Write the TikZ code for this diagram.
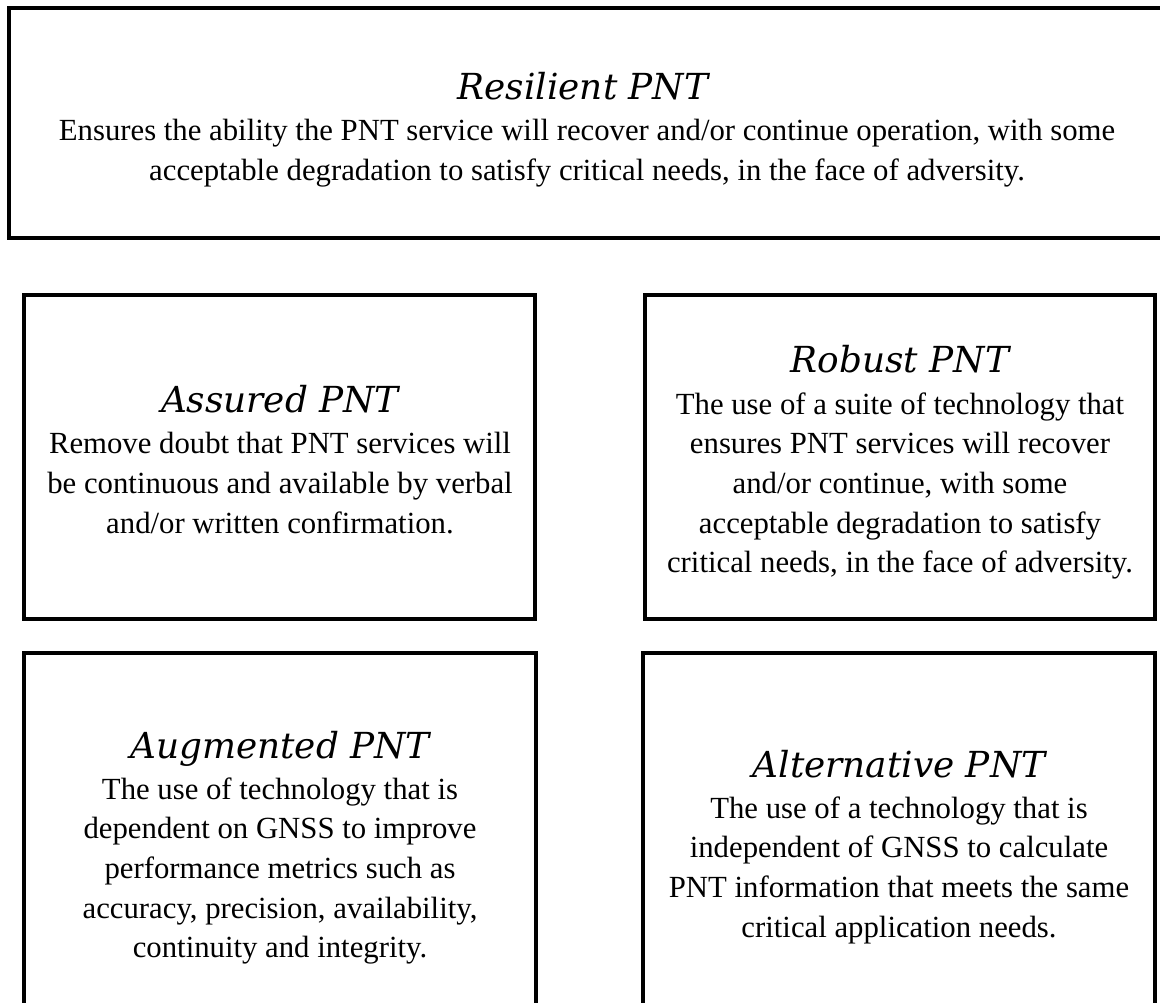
\documentclass[tikz,border=0pt]{standalone}
\usepackage{fontspec}
\setmainfont{Liberation Serif}
\newfontfamily\headfont{DejaVu Serif}
\usepackage{tikz}

\begin{document}
\begin{tikzpicture}[x=0.02cm, y=-0.02cm,
    frame/.style={line width=2.2pt},
    heading/.style={anchor=base, inner sep=0pt,
      font=\headfont\itshape\fontsize{20.4}{23}\selectfont},
    desc/.style={anchor=north, inner sep=0pt, align=center,
      font=\fontsize{17.5}{22.6}\selectfont}]
  \useasboundingbox (0,0) rectangle (1160,1003);
  \begin{scope}
    \clip (0,0) rectangle (1160,1003);
    \draw[frame] (9, 8) rectangle (1190, 238);
    \draw[frame] (24, 295) rectangle (535, 619);
    \draw[frame] (645, 295) rectangle (1155, 619);
    \draw[frame] (24, 653) rectangle (536, 1030);
    \draw[frame] (643, 653) rectangle (1155, 1030);
  \end{scope}
  % top box
  \node[heading] (resilient) at (583, 100) {Resilient PNT};
  \node[desc] (resilienttext) at (587, 119) {Ensures the ability the PNT service will recover and/or continue operation, with some\\
    acceptable degradation to satisfy critical needs, in the face of adversity.};
  % middle row
  \node[heading] (assured) at (280, 413) {Assured PNT};
  \node[desc] (assuredtext) at (280, 432) {Remove doubt that PNT services will\\
    be continuous and available by verbal\\
    and/or written confirmation.};
  \node[heading] (robust) at (900, 373) {Robust PNT};
  \node[desc] (robusttext) at (900, 392) {The use of a suite of technology that\\
    ensures PNT services will recover\\
    and/or continue, with some\\
    acceptable degradation to satisfy\\
    critical needs, in the face of adversity.};
  % bottom row
  \node[heading] (augmented) at (280, 758) {Augmented PNT};
  \node[desc] (augmentedtext) at (280, 777) {The use of technology that is\\
    dependent on GNSS to improve\\
    performance metrics such as\\
    accuracy, precision, availability,\\
    continuity and integrity.};
  \node[heading] (alternative) at (899, 777) {Alternative PNT};
  \node[desc] (alternativetext) at (899, 796) {The use of a technology that is\\
    independent of GNSS to calculate\\
    PNT information that meets the same\\
    critical application needs.};
\end{tikzpicture}
\end{document}
